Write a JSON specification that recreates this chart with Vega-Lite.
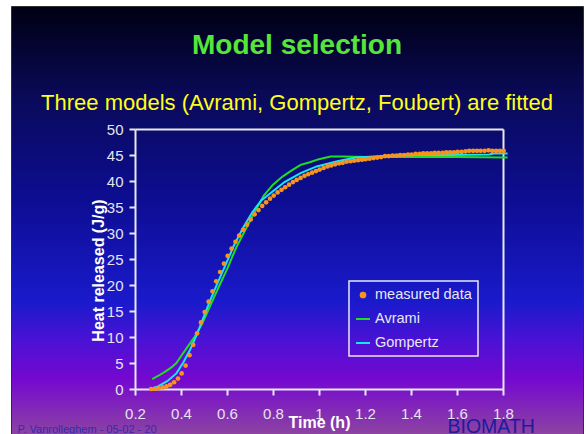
{
  "$schema": "https://vega.github.io/schema/vega-lite/v6.json",
  "width": 572,
  "height": 428,
  "autosize": {"type": "none"},
  "padding": {"left": 11, "top": 6, "right": 3, "bottom": 0},
  "background": "#ffffff",
  "title": {
    "text": "Model selection",
    "subtitle": "Three models (Avrami, Gompertz, Foubert) are fitted",
    "frame": "group",
    "anchor": "middle",
    "orient": "top",
    "offset": -108,
    "font": "Liberation Sans",
    "fontSize": 28,
    "fontWeight": "bold",
    "color": "#55e639",
    "subtitleFont": "Liberation Sans",
    "subtitleFontSize": 22,
    "subtitleColor": "#ffff1a",
    "subtitlePadding": 33
  },
  "config": {
    "font": "Liberation Sans",
    "view": {
      "fill": {
        "gradient": "linear",
        "x1": 0, "y1": 0, "x2": 0, "y2": 1,
        "stops": [
          {"offset": 0, "color": "#000012"},
          {"offset": 0.22, "color": "#0a0a5c"},
          {"offset": 0.45, "color": "#0d0d92"},
          {"offset": 0.69, "color": "#1a1acc"},
          {"offset": 0.78, "color": "#4a12d4"},
          {"offset": 0.87, "color": "#7508d0"},
          {"offset": 0.94, "color": "#8228b8"},
          {"offset": 1, "color": "#8c44a0"}
        ]
      },
      "stroke": "#303030",
      "strokeWidth": 1
    }
  },
  "layer": [
    {
      "data": {
        "values": [
          {"t": 0.275, "v": 1.9, "series": "Avrami"},
          {"t": 0.30, "v": 2.5, "series": "Avrami"},
          {"t": 0.33, "v": 3.3, "series": "Avrami"},
          {"t": 0.36, "v": 4.2, "series": "Avrami"},
          {"t": 0.38, "v": 5.0, "series": "Avrami"},
          {"t": 0.40, "v": 6.3, "series": "Avrami"},
          {"t": 0.43, "v": 8.2, "series": "Avrami"},
          {"t": 0.46, "v": 10.1, "series": "Avrami"},
          {"t": 0.49, "v": 12.4, "series": "Avrami"},
          {"t": 0.51, "v": 14.3, "series": "Avrami"},
          {"t": 0.54, "v": 17.3, "series": "Avrami"},
          {"t": 0.57, "v": 20.2, "series": "Avrami"},
          {"t": 0.60, "v": 23.0, "series": "Avrami"},
          {"t": 0.64, "v": 27.2, "series": "Avrami"},
          {"t": 0.69, "v": 31.5, "series": "Avrami"},
          {"t": 0.72, "v": 34.0, "series": "Avrami"},
          {"t": 0.76, "v": 37.2, "series": "Avrami"},
          {"t": 0.80, "v": 39.3, "series": "Avrami"},
          {"t": 0.84, "v": 40.8, "series": "Avrami"},
          {"t": 0.88, "v": 42.0, "series": "Avrami"},
          {"t": 0.92, "v": 43.1, "series": "Avrami"},
          {"t": 0.96, "v": 43.6, "series": "Avrami"},
          {"t": 1.00, "v": 44.2, "series": "Avrami"},
          {"t": 1.05, "v": 44.7, "series": "Avrami"},
          {"t": 1.10, "v": 44.7, "series": "Avrami"},
          {"t": 1.20, "v": 44.6, "series": "Avrami"},
          {"t": 1.40, "v": 44.6, "series": "Avrami"},
          {"t": 1.60, "v": 44.6, "series": "Avrami"},
          {"t": 1.82, "v": 44.5, "series": "Avrami"},
          {"t": 0.28, "v": 0.2, "series": "Gompertz"},
          {"t": 0.30, "v": 0.5, "series": "Gompertz"},
          {"t": 0.34, "v": 1.5, "series": "Gompertz"},
          {"t": 0.38, "v": 3.0, "series": "Gompertz"},
          {"t": 0.41, "v": 5.1, "series": "Gompertz"},
          {"t": 0.44, "v": 7.6, "series": "Gompertz"},
          {"t": 0.47, "v": 10.6, "series": "Gompertz"},
          {"t": 0.50, "v": 14.0, "series": "Gompertz"},
          {"t": 0.53, "v": 17.4, "series": "Gompertz"},
          {"t": 0.56, "v": 20.5, "series": "Gompertz"},
          {"t": 0.59, "v": 23.5, "series": "Gompertz"},
          {"t": 0.63, "v": 27.6, "series": "Gompertz"},
          {"t": 0.67, "v": 31.0, "series": "Gompertz"},
          {"t": 0.71, "v": 34.0, "series": "Gompertz"},
          {"t": 0.75, "v": 36.3, "series": "Gompertz"},
          {"t": 0.79, "v": 37.7, "series": "Gompertz"},
          {"t": 0.85, "v": 39.8, "series": "Gompertz"},
          {"t": 0.92, "v": 41.5, "series": "Gompertz"},
          {"t": 0.99, "v": 42.8, "series": "Gompertz"},
          {"t": 1.08, "v": 43.8, "series": "Gompertz"},
          {"t": 1.16, "v": 44.5, "series": "Gompertz"},
          {"t": 1.28, "v": 44.8, "series": "Gompertz"},
          {"t": 1.42, "v": 45.0, "series": "Gompertz"},
          {"t": 1.57, "v": 45.0, "series": "Gompertz"},
          {"t": 1.74, "v": 45.1, "series": "Gompertz"},
          {"t": 1.76, "v": 45.3, "series": "Gompertz"},
          {"t": 1.82, "v": 45.3, "series": "Gompertz"}
        ]
      },
      "mark": {"type": "line", "strokeWidth": 2},
      "encoding": {
        "x": {
          "field": "t", "type": "quantitative",
          "scale": {"domain": [0.2, 1.8], "range": [124, 492], "nice": false, "zero": false},
          "axis": {
            "orient": "bottom", "offset": -45,
            "values": [0.2, 0.4, 0.6, 0.8, 1, 1.2, 1.4, 1.6, 1.8],
            "format": ".1~f",
            "grid": false,
            "domainColor": "#e8e8f0", "domainWidth": 2,
            "tickColor": "#e8e8f0", "tickWidth": 2, "tickSize": 6,
            "labelColor": "#e4e4ee", "labelFontSize": 15, "labelPadding": 11,
            "labelFlush": false, "labelOverlap": false,
            "title": "Time (h)",
            "titleColor": "#ffffff", "titleFontSize": 16, "titleFontWeight": "bold",
            "titleY": 38, "titleBaseline": "alphabetic"
          }
        },
        "y": {
          "field": "v", "type": "quantitative",
          "scale": {"domain": [0, 50], "range": [383, 123], "nice": false, "zero": false},
          "axis": {
            "orient": "left", "offset": -124,
            "values": [0, 5, 10, 15, 20, 25, 30, 35, 40, 45, 50],
            "grid": false,
            "domainColor": "#e8e8f0", "domainWidth": 2,
            "tickColor": "#e8e8f0", "tickWidth": 2, "tickSize": 6,
            "labelColor": "#e4e4ee", "labelFontSize": 15, "labelPadding": 6,
            "labelFlush": false, "labelOverlap": false,
            "title": "Heat released (J/g)",
            "titleColor": "#ffffff", "titleFontSize": 16, "titleFontWeight": "bold",
            "titleAngle": -90, "titleX": -32, "titleY": 264, "titleBaseline": "alphabetic", "titleAlign": "center"
          }
        },
        "color": {
          "field": "series", "type": "nominal",
          "scale": {"domain": ["measured data", "Avrami", "Gompertz"], "range": ["#f7941d", "#1ee01e", "#19e6f5"]},
          "legend": {
            "title": null,
            "orient": "none", "legendX": 338, "legendY": 275,
            "direction": "vertical",
            "padding": 6,
            "rowPadding": 9,
            "strokeColor": "#e8e8f0",
            "labelColor": "#e8e8f0", "labelFontSize": 14.5, "labelOffset": 4,
            "symbolType": "stroke", "symbolSize": 196, "symbolStrokeWidth": 2,
            "encode": {
              "legend": {"update": {"strokeWidth": {"value": 1.5}}},
              "symbols": {
                "update": {
                  "shape": {"signal": "datum.value === 'measured data' ? 'circle' : 'stroke'"},
                  "size": {"signal": "datum.value === 'measured data' ? 22 : 196"},
                  "fill": {"signal": "datum.value === 'measured data' ? '#f7941d' : 'transparent'"},
                  "stroke": {"signal": "datum.value === 'Avrami' ? '#1ee01e' : datum.value === 'Gompertz' ? '#19e6f5' : 'transparent'"},
                  "strokeWidth": {"value": 2},
                  "opacity": {"value": 1}
                }
              }
            }
          }
        }
      }
    },
    {
      "data": {
        "values": [
          {"t": 0.27, "v": 0.0, "series": "measured data"},
          {"t": 0.287, "v": 0.05, "series": "measured data"},
          {"t": 0.303, "v": 0.15, "series": "measured data"},
          {"t": 0.32, "v": 0.3, "series": "measured data"},
          {"t": 0.337, "v": 0.5, "series": "measured data"},
          {"t": 0.353, "v": 0.8, "series": "measured data"},
          {"t": 0.37, "v": 1.3, "series": "measured data"},
          {"t": 0.387, "v": 2.0, "series": "measured data"},
          {"t": 0.403, "v": 3.0, "series": "measured data"},
          {"t": 0.42, "v": 4.5, "series": "measured data"},
          {"t": 0.437, "v": 6.5, "series": "measured data"},
          {"t": 0.453, "v": 8.5, "series": "measured data"},
          {"t": 0.47, "v": 10.7, "series": "measured data"},
          {"t": 0.487, "v": 12.8, "series": "measured data"},
          {"t": 0.503, "v": 14.8, "series": "measured data"},
          {"t": 0.52, "v": 16.8, "series": "measured data"},
          {"t": 0.537, "v": 18.8, "series": "measured data"},
          {"t": 0.553, "v": 20.7, "series": "measured data"},
          {"t": 0.57, "v": 22.5, "series": "measured data"},
          {"t": 0.587, "v": 24.1, "series": "measured data"},
          {"t": 0.603, "v": 25.6, "series": "measured data"},
          {"t": 0.62, "v": 27.0, "series": "measured data"},
          {"t": 0.637, "v": 28.3, "series": "measured data"},
          {"t": 0.653, "v": 29.5, "series": "measured data"},
          {"t": 0.67, "v": 30.6, "series": "measured data"},
          {"t": 0.687, "v": 31.6, "series": "measured data"},
          {"t": 0.703, "v": 32.6, "series": "measured data"},
          {"t": 0.72, "v": 33.6, "series": "measured data"},
          {"t": 0.737, "v": 34.4, "series": "measured data"},
          {"t": 0.753, "v": 35.2, "series": "measured data"},
          {"t": 0.77, "v": 35.9, "series": "measured data"},
          {"t": 0.787, "v": 36.6, "series": "measured data"},
          {"t": 0.803, "v": 37.2, "series": "measured data"},
          {"t": 0.82, "v": 37.8, "series": "measured data"},
          {"t": 0.837, "v": 38.3, "series": "measured data"},
          {"t": 0.853, "v": 38.8, "series": "measured data"},
          {"t": 0.87, "v": 39.3, "series": "measured data"},
          {"t": 0.887, "v": 39.8, "series": "measured data"},
          {"t": 0.903, "v": 40.2, "series": "measured data"},
          {"t": 0.92, "v": 40.6, "series": "measured data"},
          {"t": 0.937, "v": 41.0, "series": "measured data"},
          {"t": 0.953, "v": 41.3, "series": "measured data"},
          {"t": 0.97, "v": 41.6, "series": "measured data"},
          {"t": 0.987, "v": 41.9, "series": "measured data"},
          {"t": 1.003, "v": 42.2, "series": "measured data"},
          {"t": 1.02, "v": 42.5, "series": "measured data"},
          {"t": 1.037, "v": 42.8, "series": "measured data"},
          {"t": 1.053, "v": 43.0, "series": "measured data"},
          {"t": 1.07, "v": 43.2, "series": "measured data"},
          {"t": 1.087, "v": 43.4, "series": "measured data"},
          {"t": 1.103, "v": 43.5, "series": "measured data"},
          {"t": 1.12, "v": 43.7, "series": "measured data"},
          {"t": 1.137, "v": 43.8, "series": "measured data"},
          {"t": 1.153, "v": 43.9, "series": "measured data"},
          {"t": 1.17, "v": 44.0, "series": "measured data"},
          {"t": 1.187, "v": 44.1, "series": "measured data"},
          {"t": 1.203, "v": 44.2, "series": "measured data"},
          {"t": 1.22, "v": 44.3, "series": "measured data"},
          {"t": 1.237, "v": 44.4, "series": "measured data"},
          {"t": 1.253, "v": 44.5, "series": "measured data"},
          {"t": 1.27, "v": 44.6, "series": "measured data"},
          {"t": 1.287, "v": 44.8, "series": "measured data"},
          {"t": 1.303, "v": 44.8, "series": "measured data"},
          {"t": 1.32, "v": 44.9, "series": "measured data"},
          {"t": 1.337, "v": 44.9, "series": "measured data"},
          {"t": 1.353, "v": 45.0, "series": "measured data"},
          {"t": 1.37, "v": 45.0, "series": "measured data"},
          {"t": 1.387, "v": 45.1, "series": "measured data"},
          {"t": 1.403, "v": 45.1, "series": "measured data"},
          {"t": 1.42, "v": 45.2, "series": "measured data"},
          {"t": 1.437, "v": 45.2, "series": "measured data"},
          {"t": 1.453, "v": 45.3, "series": "measured data"},
          {"t": 1.47, "v": 45.3, "series": "measured data"},
          {"t": 1.487, "v": 45.3, "series": "measured data"},
          {"t": 1.503, "v": 45.4, "series": "measured data"},
          {"t": 1.52, "v": 45.4, "series": "measured data"},
          {"t": 1.537, "v": 45.4, "series": "measured data"},
          {"t": 1.553, "v": 45.5, "series": "measured data"},
          {"t": 1.57, "v": 45.5, "series": "measured data"},
          {"t": 1.587, "v": 45.5, "series": "measured data"},
          {"t": 1.603, "v": 45.6, "series": "measured data"},
          {"t": 1.62, "v": 45.6, "series": "measured data"},
          {"t": 1.637, "v": 45.7, "series": "measured data"},
          {"t": 1.653, "v": 45.8, "series": "measured data"},
          {"t": 1.67, "v": 45.8, "series": "measured data"},
          {"t": 1.687, "v": 45.8, "series": "measured data"},
          {"t": 1.703, "v": 45.8, "series": "measured data"},
          {"t": 1.72, "v": 45.8, "series": "measured data"},
          {"t": 1.737, "v": 45.9, "series": "measured data"},
          {"t": 1.753, "v": 45.8, "series": "measured data"},
          {"t": 1.77, "v": 45.8, "series": "measured data"},
          {"t": 1.787, "v": 45.8, "series": "measured data"},
          {"t": 1.803, "v": 45.8, "series": "measured data"}
        ]
      },
      "mark": {"type": "point", "filled": true, "opacity": 1, "size": 22},
      "encoding": {
        "x": {
          "field": "t", "type": "quantitative",
          "scale": {"domain": [0.2, 1.8], "range": [124, 492], "nice": false, "zero": false},
          "axis": {
            "orient": "top", "offset": -123,
            "grid": false, "ticks": false, "labels": false,
            "domainColor": "#e8e8f0", "domainWidth": 2,
            "title": "P. Vanrolleghem - 05-02 - 20",
            "titleColor": "#2e2eb4", "titleFontSize": 11, "titleFontWeight": "normal",
            "titleAngle": 0, "titleX": 6, "titleY": 303, "titleAlign": "left", "titleBaseline": "alphabetic"
          }
        },
        "y": {
          "field": "v", "type": "quantitative",
          "scale": {"domain": [0, 50], "range": [383, 123], "nice": false, "zero": false},
          "axis": {
            "orient": "right", "offset": -80,
            "grid": false, "ticks": false, "labels": false,
            "domainColor": "#e8e8f0", "domainWidth": 2,
            "title": "BIOMATH",
            "titleColor": "#1c1c9c", "titleFontSize": 19.5, "titleFontWeight": "normal",
            "titleAngle": 0, "titleX": -56, "titleY": 426, "titleAlign": "left", "titleBaseline": "alphabetic"
          }
        },
        "color": {
          "field": "series", "type": "nominal",
          "scale": {"domain": ["measured data", "Avrami", "Gompertz"], "range": ["#f7941d", "#1ee01e", "#19e6f5"]}
        }
      }
    }
  ],
  "resolve": {"axis": {"x": "independent", "y": "independent"}}
}
